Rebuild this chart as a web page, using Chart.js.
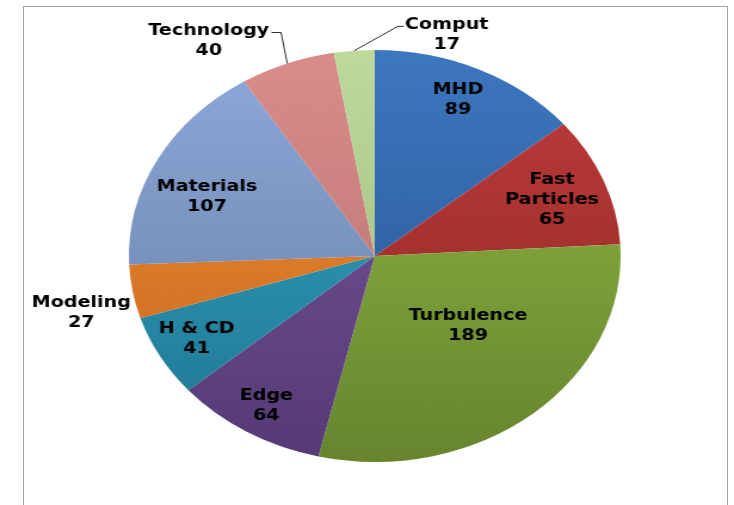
<!DOCTYPE html>
<html>
<head>
<meta charset="utf-8">
<script src="https://cdn.jsdelivr.net/npm/chart.js@4.4.1/dist/chart.umd.min.js"></script>
<style>
    body { margin: 0; background: #fff; }
    #frame {
        position: absolute; left: 23px; top: 6px;
        width: 705px; height: 520px;
        box-sizing: border-box;
        border: 1px solid #a3a3a3;
    }
    #stretch {
        position: absolute; left: 0; top: 0;
        width: 615px; height: 505px;
        transform: scale(1.1935, 1);
        transform-origin: 0 0;
    }
</style>
</head>
<body>
<div id="frame"></div>
<div id="stretch"><canvas id="pieChart" width="615" height="505"></canvas></div>
<script>
// Research areas and paper counts, clockwise from 12 o'clock
const categories = ["MHD", ["Fast", "Particles"], "Turbulence", "Edge", "H & CD",
                    "Modeling", "Materials", "Technology", "Comput"];
const counts = [89, 65, 189, 64, 41, 27, 107, 40, 17];

// light (top) / dark (bottom) shade for each slice
const shadeTop = ["#3d77c0", "#c03d3b", "#93b946", "#7a58a0", "#33a8c8",
                  "#f5913a", "#8eaadb", "#da8d8b", "#bed99c"];
const shadeBottom = ["#27528c", "#8a2624", "#66852e", "#553a75", "#1f7590",
                     "#c0641c", "#647aa0", "#b06e6c", "#98b878"];

// where each label sits: fraction of the radius, and a turn (degrees) off the slice middle
const labelRadius = [0.83, 0.77, 0.51, 0.85, 0.83, 1.225, 0.74, 1.245, 1.115];
const labelTurn = [-1, 1, -8, 0, 0, -3, -5, -12, 20];
const withLeader = [false, false, false, false, false, false, false, true, true];

function sliceFill(ctx) {
    const chart = ctx.chart;
    const area = chart.chartArea;
    if (!area) return shadeTop[ctx.dataIndex];
    const g = chart.ctx.createLinearGradient(0, area.top, 0, area.bottom);
    g.addColorStop(0, shadeTop[ctx.dataIndex]);
    g.addColorStop(1, shadeBottom[ctx.dataIndex]);
    return g;
}

// Draws "name / value" labels on or beside each slice
const sliceLabels = {
    id: "sliceLabels",
    afterDatasetsDraw(chart) {
        const ctx = chart.ctx;
        const arcs = chart.getDatasetMeta(0).data;
        const lineH = 20;
        ctx.save();
        ctx.font = "bold 16px 'DejaVu Sans'";
        ctx.fillStyle = "#000";
        ctx.textAlign = "center";
        ctx.textBaseline = "middle";
        arcs.forEach((arc, i) => {
            const p = arc.getProps(["x", "y", "startAngle", "endAngle", "outerRadius"], true);
            const mid = (p.startAngle + p.endAngle) / 2;
            const a = mid + labelTurn[i] * Math.PI / 180;
            const lx = p.x + Math.cos(a) * p.outerRadius * labelRadius[i];
            const ly = p.y + Math.sin(a) * p.outerRadius * labelRadius[i];
            const name = [].concat(chart.data.labels[i]);
            const lines = name.concat(String(chart.data.datasets[0].data[i]));
            const top = ly - (lines.length - 1) * lineH / 2;
            lines.forEach((t, k) => ctx.fillText(t, lx, top + k * lineH));

            if (withLeader[i]) {
                const w = ctx.measureText(name[0]).width;
                const ex = p.x + Math.cos(mid) * p.outerRadius;
                const ey = p.y + Math.sin(mid) * p.outerRadius;
                const hy = top + 2;
                let ax, bx;
                if (lx < p.x) {
                    ax = lx + w / 2 + 2;
                    bx = ax + 8;
                } else {
                    ax = lx - w / 2 - 1;
                    bx = ax - 5;
                }
                ctx.beginPath();
                ctx.moveTo(ex, ey);
                ctx.lineTo(bx, hy);
                ctx.lineTo(ax, hy);
                ctx.strokeStyle = "#2b2b2b";
                ctx.lineWidth = 1;
                ctx.stroke();
            }
        });
        ctx.restore();
    }
};

new Chart(document.getElementById("pieChart"), {
    type: "pie",
    data: {
        labels: categories,
        datasets: [{
            data: counts,
            backgroundColor: sliceFill,
            borderWidth: 0,
            hoverOffset: 0,
            offset: 0
        }]
    },
    options: {
        responsive: false,
        animation: false,
        layout: { padding: { top: 50, bottom: 43, left: 108, right: 95 } },
        plugins: {
            legend: { display: false },
            tooltip: { enabled: false }
        }
    },
    plugins: [sliceLabels]
});
</script>
</body>
</html>
